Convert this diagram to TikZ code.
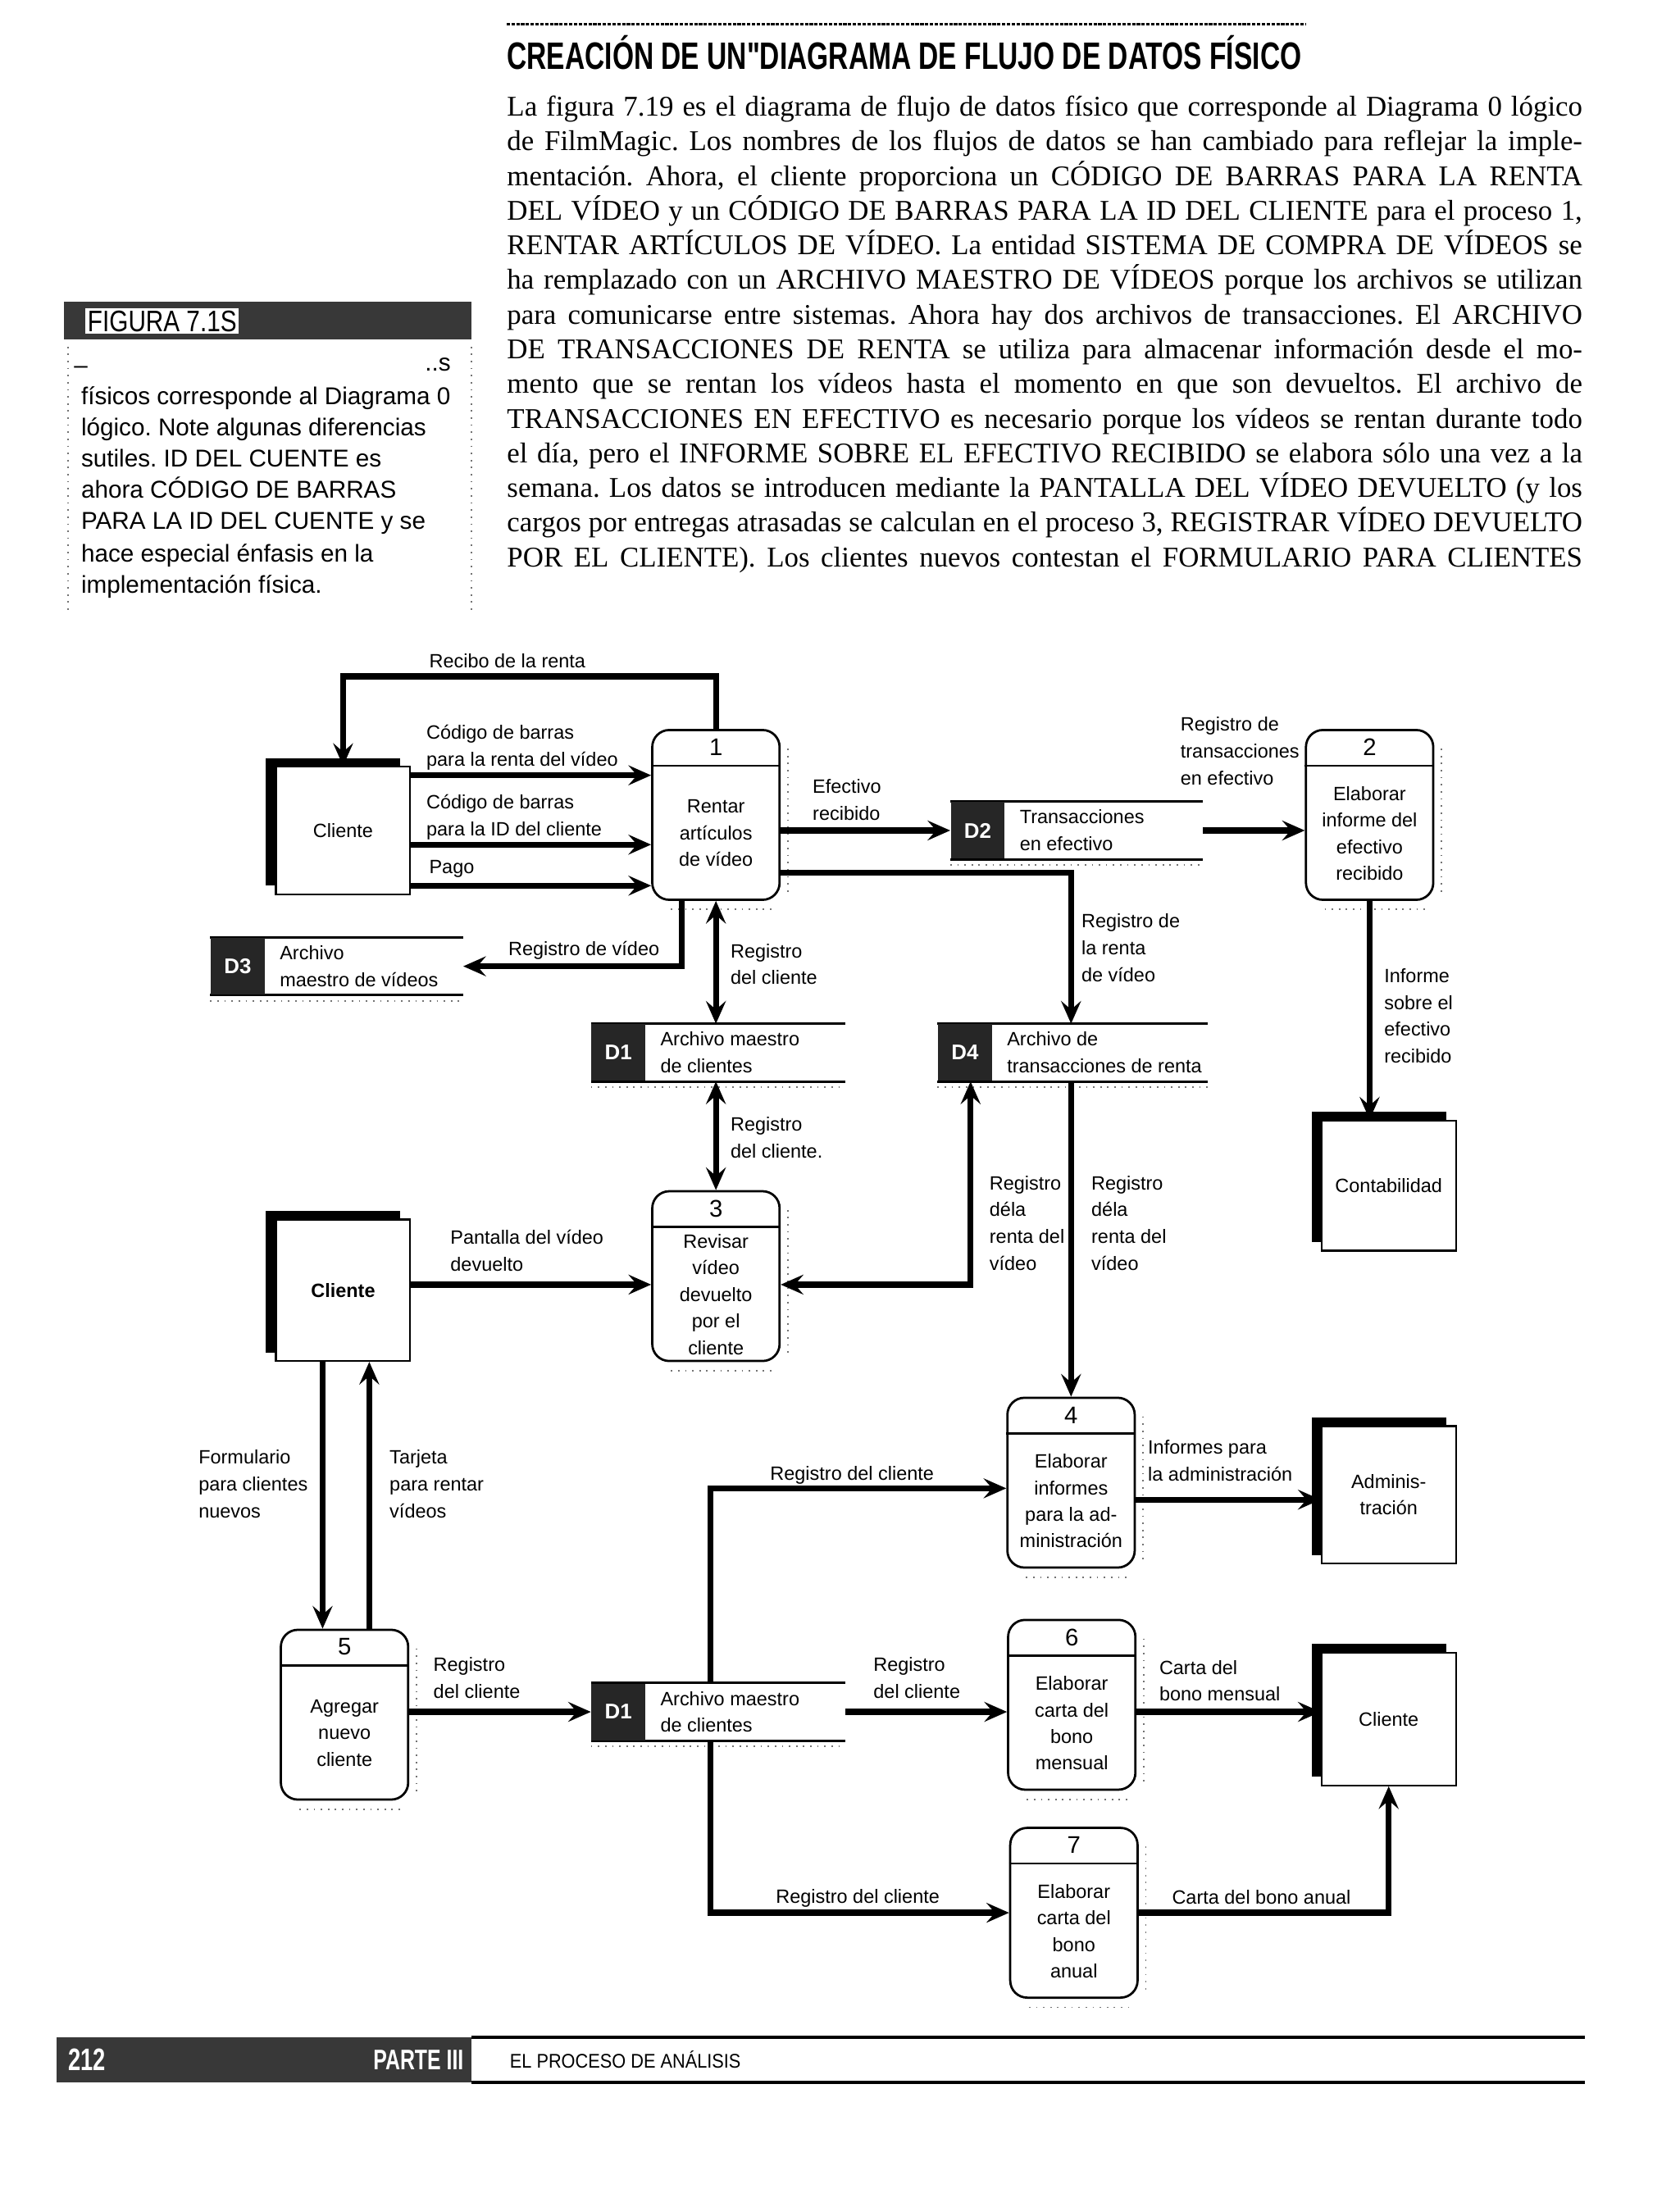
\documentclass[tikz,border=0pt]{standalone}
\usepackage{fontspec}
\setmainfont{Liberation Serif}
\newfontfamily\dfd{Liberation Sans}
\newfontfamily\titlefont[FakeStretch=0.72]{Liberation Sans}
\newfontfamily\footfont[FakeStretch=0.9]{Liberation Sans}
\newfontfamily\figfont[FakeStretch=0.82]{Liberation Sans}
\usetikzlibrary{arrows.meta,shadows,calc}
\frenchspacing

\tikzset{
  lbl/.style={font=\dfd\fontsize{6.8}{9.5}\selectfont, inner sep=0pt, align=left, anchor=west},
  ptxt/.style={font=\dfd\fontsize{6.8}{9.4}\selectfont, inner sep=0pt, align=center},
  pnum/.style={font=\dfd\fontsize{8.5}{10}\selectfont, inner sep=0pt},
  proc/.style={draw, line width=0.8pt, rounded corners=6pt, minimum width=45pt, minimum height=60pt, inner sep=0pt},
  ent/.style={draw, line width=0.6pt, fill=white, minimum width=47.5pt, inner sep=0pt, align=center,
     font=\dfd\fontsize{6.8}{9.5}\selectfont,
     general shadow={fill=black, shadow xshift=-3.5pt, shadow yshift=3pt}},
  store/.style={minimum height=20pt, inner sep=0pt},
  sid/.style={fill=black!85, minimum width=19pt, minimum height=20pt, inner sep=0pt, text=white,
     font=\dfd\bfseries\fontsize{7.5}{8}\selectfont},
  storeline/.style={line width=0.9pt},
  flow/.style={line width=2.1pt, -{Stealth[length=8pt,width=7pt,inset=3pt]}},
  flowtwo/.style={line width=2.1pt, {Stealth[length=8pt,width=7pt,inset=3pt]}-{Stealth[length=8pt,width=7pt,inset=3pt]}},
  side/.style={anchor=base west, inner sep=0pt, font=\dfd\fontsize{8.6}{11}\selectfont},
  shadowdots/.style={dotted, black!55, line width=0.5pt}
}

\newcommand\mkproc[4]{%
  \node[proc] (#1) at (#2) {};
  \draw[line width=0.8pt] ($(#1.north west)+(0,26)$) -- ($(#1.north east)+(0,26)$);
  \node[pnum] (#1n) at ($(#1.north)+(0,13)$) {#3};
  \node[ptxt] (#1t) at ($(#1.center)+(0,13)$) {#4};
  \draw[shadowdots] ($(#1.north east)+(5,14)$) -- ($(#1.south east)+(5,-6)$);
  \draw[shadowdots] ($(#1.south west)+(14,6)$) -- ($(#1.south east)+(-6,6)$);
}
\newcommand\mkstore[5]{%
  \node[store, minimum width=#3] (#1) at (#2) {};
  \draw[storeline] (#1.north west) -- (#1.north east) (#1.south west) -- (#1.south east);
  \draw[shadowdots] ($(#1.south west)+(0,4)$) -- ($(#1.south east)+(0,4)$);
  \node[sid, anchor=west] (#1id) at (#1.west) {#4};
  \node[lbl] (#1t) at ($(#1id.east)+(10,0)$) {#5};
}
\newcommand\bline[3]{%
  \node[anchor=base west, inner sep=0pt, font=\fontsize{10.1}{12}\selectfont] (#1) at (358,#2) {\makebox[380pt][s]{#3}};
}

\begin{document}
\begin{tikzpicture}[x=0.5pt,y=-0.5pt]
\useasboundingbox (0,0) rectangle (1187,1560);
\fill[white] (0,0) rectangle (1187,1560);

% ---------- header ----------
\draw[line width=0.8pt, dash pattern=on 1.2pt off 0.5pt] (358,17) -- (923,17);
\node[anchor=base west, inner sep=0pt, font=\titlefont\bfseries\fontsize{13.5}{15}\selectfont] (title) at (358,49)
  {CREACIÓN DE UN"DIAGRAMA DE FLUJO DE DATOS FÍSICO};

\bline{b1}{82}{La figura 7.19 es el diagrama de flujo de datos físico que corresponde al Diagrama 0 lógico}
\bline{b2}{106.5}{de FilmMagic. Los nombres de los flujos de datos se han cambiado para reflejar la imple-}
\bline{b3}{131}{mentación. Ahora, el cliente proporciona un CÓDIGO DE BARRAS PARA LA RENTA}
\bline{b4}{155.5}{DEL VÍDEO y un CÓDIGO DE BARRAS PARA LA ID DEL CLIENTE para el proceso 1,}
\bline{b5}{180}{RENTAR ARTÍCULOS DE VÍDEO. La entidad SISTEMA DE COMPRA DE VÍDEOS se}
\bline{b6}{204.5}{ha remplazado con un ARCHIVO MAESTRO DE VÍDEOS porque los archivos se utilizan}
\bline{b7}{229}{para comunicarse entre sistemas. Ahora hay dos archivos de transacciones. El ARCHIVO}
\bline{b8}{253.5}{DE TRANSACCIONES DE RENTA se utiliza para almacenar información desde el mo-}
\bline{b9}{278}{mento que se rentan los vídeos hasta el momento en que son devueltos. El archivo de}
\bline{b10}{302.5}{TRANSACCIONES EN EFECTIVO es necesario porque los vídeos se rentan durante todo}
\bline{b11}{327}{el día, pero el INFORME SOBRE EL EFECTIVO RECIBIDO se elabora sólo una vez a la}
\bline{b12}{351.5}{semana. Los datos se introducen mediante la PANTALLA DEL VÍDEO DEVUELTO (y los}
\bline{b13}{376}{cargos por entregas atrasadas se calculan en el proceso 3, REGISTRAR VÍDEO DEVUELTO}
\bline{b14}{400.5}{POR EL CLIENTE). Los clientes nuevos contestan el FORMULARIO PARA CLIENTES}

% ---------- sidebar ----------
\fill[black!78] (45,213) rectangle (333,240);
\node[fill=white, inner sep=0.8pt, anchor=west, font=\figfont\fontsize{10.5}{11}\selectfont] (fig) at (60,227) {FIGURA 7.1S};
\draw[shadowdots] (48,245) -- (48,432);
\draw[shadowdots] (333,245) -- (333,432);
\node[side] (m1) at (52,264) {\textendash};
\node[side] (m2) at (300,262) {..s};
\node[side] (s1) at (57,286) {físicos corresponde al Diagrama 0};
\node[side] (s2) at (57,308) {lógico. Note algunas diferencias};
\node[side] (s3) at (57,330) {sutiles. ID DEL CUENTE es};
\node[side] (s4) at (57,352) {ahora CÓDIGO DE BARRAS};
\node[side] (s5) at (57,374) {PARA LA ID DEL CUENTE y se};
\node[side] (s6) at (57,397) {hace especial énfasis en la};
\node[side] (s7) at (57,419) {implementación física.};

% ---------- entities ----------
\node[ent, minimum height=45pt] (e1) at (242.5,587) {Cliente};
\node[ent, minimum height=50pt] (e2) at (242.5,912) {\bfseries Cliente};
\node[ent, minimum height=46pt] (e3) at (981.5,838) {Contabilidad};
\node[ent, minimum height=48.5pt] (e4) at (981.5,1056.5) {Adminis-\\tración};
\node[ent, minimum height=47pt] (e5) at (981.5,1215) {Cliente};

% ---------- processes ----------
\mkproc{p1}{506,576}{1}{Rentar\\artículos\\de vídeo}
\mkproc{p2}{968,576}{2}{Elaborar\\informe del\\efectivo\\recibido}
\mkproc{p3}{506,902}{3}{Revisar\\vídeo\\devuelto\\por el\\cliente}
\mkproc{p4}{757,1048}{4}{Elaborar\\informes\\para la ad-\\ministración}
\mkproc{p5}{243.5,1212}{5}{Agregar\\nuevo\\cliente}
\mkproc{p6}{757.5,1205}{6}{Elaborar\\carta del\\bono\\mensual}
\mkproc{p7}{759,1352}{7}{Elaborar\\carta del\\bono\\anual}

% ---------- data stores ----------
\mkstore{d2}{761,587}{89pt}{D2}{Transacciones\\en efectivo}
\mkstore{d3}{238,683}{89pt}{D3}{Archivo\\maestro de vídeos}
\mkstore{d1a}{507.5,744}{89.5pt}{D1}{Archivo maestro\\de clientes}
\mkstore{d4}{758,744}{95pt}{D4}{Archivo de\\transacciones de renta}
\mkstore{d1b}{507.5,1210}{89.5pt}{D1}{Archivo maestro\\de clientes}

% ---------- flows ----------
\draw[flow] (p1.north) -- (p1.north |- 0,478) -| (e1.north);
\draw[flow] (e1.east |- 0,548) -- (p1.west |- 0,548);
\draw[flow] (e1.east |- 0,597) -- (p1.west |- 0,597);
\draw[flow] (e1.east |- 0,626) -- (p1.west |- 0,626);
\draw[flow] (p1.east |- d2) -- (d2id.west);
\draw[flow] (d2.east) -- (p2.west |- d2.east);
\draw[flow] (p1.east |- 0,617) -| (757,0 |- d4.north);
\draw[flow] (482,0 |- p1.south) |- (d3.east);
\draw[flowtwo] (p1.south) -- (p1.south |- d1a.north);
\draw[flowtwo] (p3.north |- d1a.south) -- (p3.north);
\draw[flow] (e2.east |- 0,908) -- (p3.west |- 0,908);
\draw[flowtwo] (p3.east |- 0,908) -| (686,0 |- d4.south);
\draw[flow] (p4.north |- d4.south) -- (p4.north);
\draw[flow] (p2.south) -- (p2.south |- e3.north);
\draw[flow] (p4.east |- 0,1060) -- (e4.west |- 0,1060);
\draw[flow] (228,0 |- e2.south) -- (228,0 |- p5.north);
\draw[flow] (261,0 |- p5.north) -- (261,0 |- e2.south);
\draw[flow] (p5.east |- d1b) -- (d1bid.west);
\draw[flow] (502,0 |- d1b.north) |- (p4.west |- 0,1052);
\draw[flow] (d1b.east) -- (p6.west |- d1b.east);
\draw[flow] (502,0 |- d1b.south) |- (p7.west);
\draw[flow] (p6.east |- d1b) -- (e5.west |- d1b);
\draw[flow] (p7.east) -| (e5.south);

% ---------- flow labels ----------
\node[lbl] (l1) at (303,467) {Recibo de la renta};
\node[lbl] (l2) at (301,528.5) {Código de barras\\para la renta del vídeo};
\node[lbl] (l3) at (301,577.5) {Código de barras\\para la ID del cliente};
\node[lbl] (l4) at (303,614) {Pago};
\node[lbl] (l5) at (574,565.5) {Efectivo\\recibido};
\node[lbl] (l6) at (834,531) {Registro de\\transacciones\\en efectivo};
\node[lbl] (l7) at (764,670) {Registro de\\la renta\\de vídeo};
\node[lbl] (l8) at (359,672) {Registro de vídeo};
\node[lbl] (l9) at (516,681.5) {Registro\\del cliente};
\node[lbl] (l10) at (978,718) {Informe\\sobre el\\efectivo\\recibido};
\node[lbl] (l11) at (516,804) {Registro\\del cliente.};
\node[lbl] (l12) at (318,884) {Pantalla del vídeo\\devuelto};
\node[lbl] (l13) at (699,864.5) {Registro\\déla\\renta del\\vídeo};
\node[lbl] (l14) at (771,864.5) {Registro\\déla\\renta del\\vídeo};
\node[lbl] (l15) at (140,1049) {Formulario\\para clientes\\nuevos};
\node[lbl] (l16) at (275,1049) {Tarjeta\\para rentar\\vídeos};
\node[lbl] (l17) at (544,1043) {Registro del cliente};
\node[lbl] (l18) at (811,1032.5) {Informes para\\la administración};
\node[lbl] (l19) at (306,1186) {Registro\\del cliente};
\node[lbl] (l20) at (617,1186) {Registro\\del cliente};
\node[lbl] (l21) at (819,1188) {Carta del\\bono mensual};
\node[lbl] (l22) at (548,1342) {Registro del cliente};
\node[lbl] (l23) at (828,1341) {Carta del bono anual};

% ---------- footer ----------
\fill[black!78] (40,1440) rectangle (333,1472);
\node[anchor=west, inner sep=0pt, text=white, font=\titlefont\bfseries\fontsize{11}{12}\selectfont] (pg) at (48,1456) {212};
\node[anchor=east, inner sep=0pt, text=white, font=\titlefont\bfseries\fontsize{10}{12}\selectfont] (pt) at (328,1456) {PARTE III};
\draw[line width=1.3pt] (333,1440) -- (1120,1440);
\draw[line width=1.3pt] (333,1472) -- (1120,1472);
\node[anchor=west, inner sep=0pt, font=\footfont\fontsize{7}{8}\selectfont] (ft) at (360,1456) {EL PROCESO DE ANÁLISIS};
\end{tikzpicture}
\end{document}
